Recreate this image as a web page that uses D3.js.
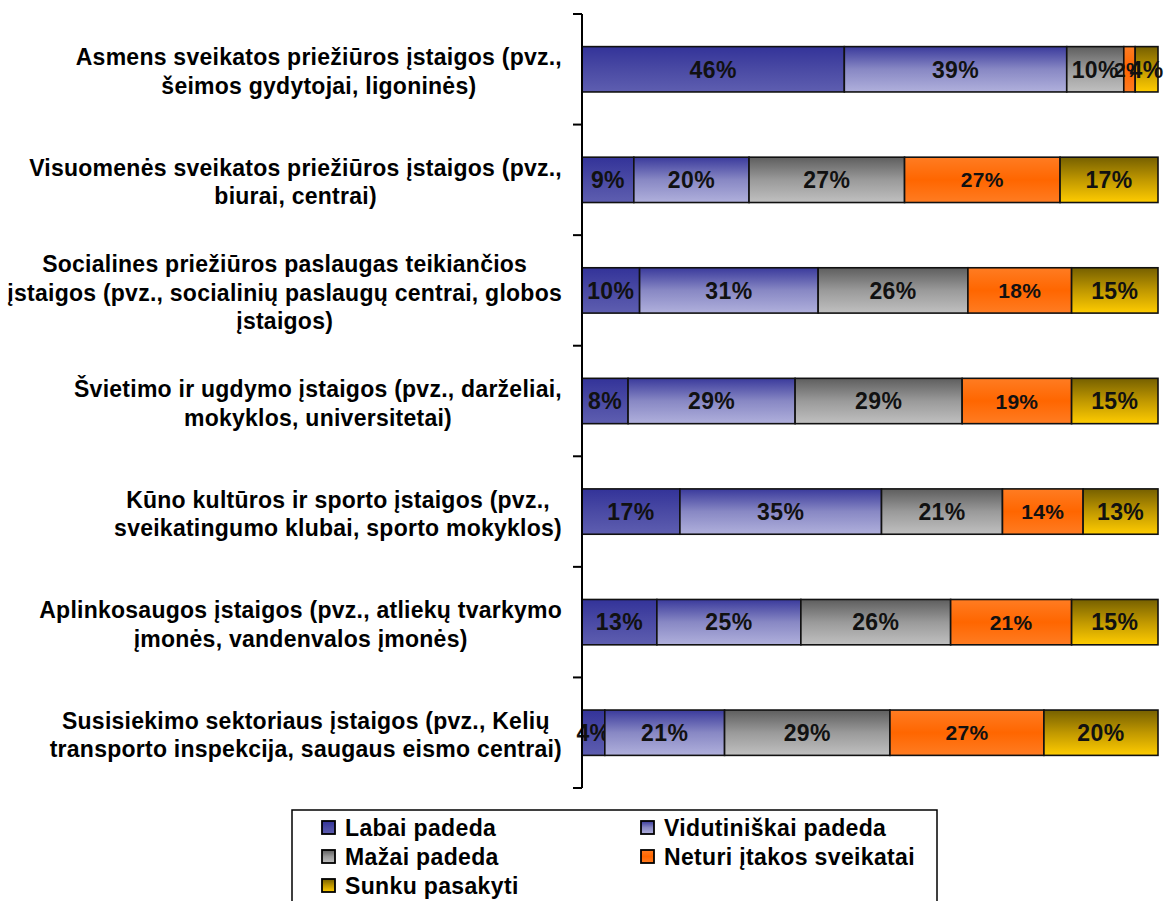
<!DOCTYPE html>
<html>
<head>
<meta charset="utf-8">
<script src="https://cdn.jsdelivr.net/npm/d3@7"></script>
<style>
  body { margin: 0; background: #fff; }
  svg { font-family: "Liberation Sans", Arial, sans-serif; font-weight: bold; }
</style>
</head>
<body>
<script>
// categories, each as its lines of text
var categories = [
  ["Asmens sveikatos priežiūros įstaigos (pvz.,", "šeimos gydytojai, ligoninės)"],
  ["Visuomenės sveikatos priežiūros įstaigos (pvz.,", "biurai, centrai)"],
  ["Socialines priežiūros paslaugas teikiančios", "įstaigos (pvz., socialinių paslaugų centrai, globos", "įstaigos)"],
  ["Švietimo ir ugdymo įstaigos (pvz., darželiai,", "mokyklos, universitetai)"],
  ["Kūno kultūros ir sporto įstaigos (pvz.,", "sveikatingumo klubai, sporto mokyklos)"],
  ["Aplinkosaugos įstaigos (pvz., atliekų tvarkymo", "įmonės, vandenvalos įmonės)"],
  ["Susisiekimo sektoriaus įstaigos (pvz., Kelių", "transporto inspekcija, saugaus eismo centrai)"]
];
var series = ["Labai padeda", "Vidutiniškai padeda", "Mažai padeda", "Neturi įtakos sveikatai", "Sunku pasakyti"];

// percentages per series, one value per category
var labaiPadeda = [46, 9, 10, 8, 17, 13, 4];
var vidutiniskaiPadeda = [39, 20, 31, 29, 35, 25, 21];
var mazaiPadeda = [10, 27, 26, 29, 21, 26, 29];
var neturiItakos = [2, 27, 18, 19, 14, 21, 27];
var sunkuPasakyti = [4, 17, 15, 15, 13, 15, 20];

// gradient stops per series (top, middle, bottom)
var gradients = [
  ["#333399", "#4a4aa4", "#5e5eb0"],
  ["#3a3a9c", "#8888c4", "#b0b0dc"],
  ["#5e5e5e", "#9a9a9a", "#c0c0c0"],
  ["#ff7c22", "#ff6600", "#ff7c22"],
  ["#766000", "#c09800", "#ffcc00"]
];

var W = 1168, H = 901;
var axisX = 582, rightX = 1158, topY = 14, bottomY = 788;

var rows = categories.map(function(c, i) {
  var r = {idx: i};
  r[series[0]] = labaiPadeda[i];
  r[series[1]] = vidutiniskaiPadeda[i];
  r[series[2]] = mazaiPadeda[i];
  r[series[3]] = neturiItakos[i];
  r[series[4]] = sunkuPasakyti[i];
  return r;
});

var stacked = d3.stack().keys(series).offset(d3.stackOffsetExpand)(rows);

var svg = d3.select("body").append("svg")
    .attr("width", W)
    .attr("height", H);

var defs = svg.append("defs");
gradients.forEach(function(g, i) {
  var lg = defs.append("linearGradient")
      .attr("id", "grad" + i)
      .attr("x1", 0).attr("y1", 0).attr("x2", 0).attr("y2", 1);
  lg.append("stop").attr("offset", "0%").attr("stop-color", g[0]);
  lg.append("stop").attr("offset", "50%").attr("stop-color", g[1]);
  lg.append("stop").attr("offset", "100%").attr("stop-color", g[2]);
});

var x = d3.scaleLinear().domain([0, 1]).range([axisX, rightX]);
var y = d3.scaleBand()
    .domain(d3.range(categories.length))
    .range([topY, bottomY])
    .paddingInner(0.59)
    .paddingOuter(0.295);

// bars
var layer = svg.selectAll(".layer")
    .data(stacked)
  .enter().append("g")
    .attr("class", "layer")
    .attr("fill", function(d, i) { return "url(#grad" + i + ")"; });

layer.selectAll("rect")
    .data(function(d) { return d; })
  .enter().append("rect")
    .attr("x", function(d) { return x(d[0]); })
    .attr("y", function(d) { return y(d.data.idx); })
    .attr("width", function(d) { return x(d[1]) - x(d[0]); })
    .attr("height", y.bandwidth())
    .attr("stroke", "#111")
    .attr("stroke-width", 1.6);

// value labels
layer.each(function(s, si) {
  d3.select(this).selectAll("text")
      .data(s)
    .enter().append("text")
      .attr("x", function(d) { return (x(d[0]) + x(d[1])) / 2; })
      .attr("y", function(d) { return y(d.data.idx) + y.bandwidth() / 2; })
      .attr("dy", "0.36em")
      .attr("text-anchor", "middle")
      .attr("fill", "#111")
      .style("font-size", si === 3 ? "21px" : "23px")
      .style("letter-spacing", si === 3 ? "0.3px" : "0.4px")
      .text(function(d) { return d.data[s.key] + "%"; });
});

// axis line and ticks
var step = y.step();
svg.append("line")
    .attr("x1", axisX).attr("x2", axisX)
    .attr("y1", topY).attr("y2", bottomY)
    .attr("stroke", "#000").attr("stroke-width", 2);
svg.selectAll(".tick")
    .data(d3.range(categories.length + 1))
  .enter().append("line")
    .attr("class", "tick")
    .attr("x1", axisX - 9).attr("x2", axisX)
    .attr("y1", function(i) { return topY + i * step; })
    .attr("y2", function(i) { return topY + i * step; })
    .attr("stroke", "#000").attr("stroke-width", 2);

// category labels: block right edge near axis, lines centred in block
var lineH = 28.5;
categories.forEach(function(lines, i) {
  var t = svg.append("text")
      .attr("text-anchor", "middle")
      .attr("fill", "#000")
      .style("font-size", "23px")
      .style("letter-spacing", "0.25px");
  var cy = y(i) + y.bandwidth() / 2 + 2;
  var startY = cy - (lines.length - 1) * lineH / 2;
  lines.forEach(function(l, j) {
    t.append("tspan")
        .attr("y", startY + j * lineH)
        .attr("dy", "0.36em")
        .text(l);
  });
  var maxW = 0;
  t.selectAll("tspan").each(function() {
    maxW = Math.max(maxW, this.getComputedTextLength());
  });
  t.selectAll("tspan").attr("x", 562 - maxW / 2);
});

// legend
var legend = svg.append("g");
legend.append("rect")
    .attr("x", 292).attr("y", 810)
    .attr("width", 645).attr("height", 100)
    .attr("fill", "#fff")
    .attr("stroke", "#000").attr("stroke-width", 1.5);

var items = legend.selectAll(".item")
    .data(series)
  .enter().append("g")
    .attr("class", "item")
    .attr("transform", function(d, i) {
      return "translate(" + (i % 2 === 0 ? 322 : 641) + "," + (821 + Math.floor(i / 2) * 29) + ")";
    });
items.append("rect")
    .attr("width", 13).attr("height", 13)
    .attr("fill", function(d, i) { return "url(#grad" + i + ")"; })
    .attr("stroke", "#000").attr("stroke-width", 1.8);
items.append("text")
    .attr("x", 23).attr("y", 6.5)
    .attr("dy", "0.36em")
    .style("font-size", "23px")
    .style("letter-spacing", "0.35px")
    .attr("fill", "#000")
    .text(function(d) { return d; });
</script>
</body>
</html>
